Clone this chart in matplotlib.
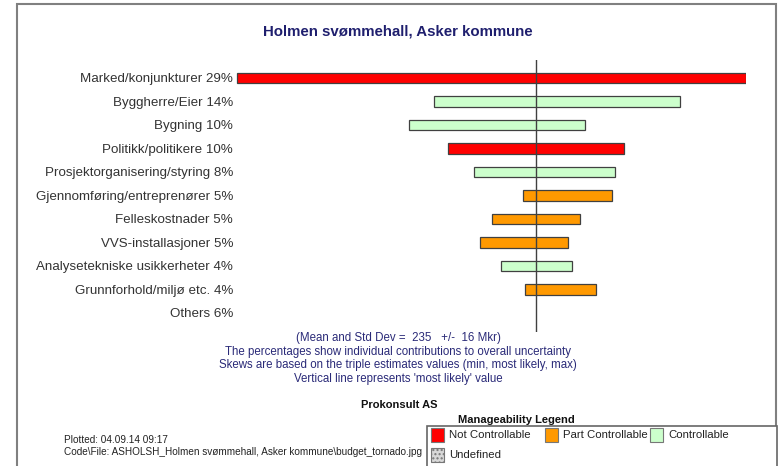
import matplotlib
matplotlib.use("Agg")
import matplotlib.pyplot as plt
from matplotlib.patches import Rectangle

plt.rcParams['font.family'] = ['Liberation Sans', 'DejaVu Sans']

# data (Mkr), most likely total = 230
labels = ["Marked/konjunkturer 29%", "Byggherre/Eier 14%", "Bygning 10%",
          "Politikk/politikere 10%", "Prosjektorganisering/styring 8%",
          "Gjennomføring/entreprenører 5%", "Felleskostnader 5%",
          "VVS-installasjoner 5%", "Analysetekniske usikkerheter 4%",
          "Grunnforhold/miljø etc. 4%", "Others 6%"]
low = [200.1, 219.8, 217.3, 221.2, 223.8, 228.7, 225.6, 224.4, 226.5, 228.9, None]
high = [251.0, 244.4, 234.9, 238.8, 237.9, 237.6, 234.4, 233.2, 233.6, 236.0, None]
manage = ["Not", "Ctrl", "Ctrl", "Not", "Ctrl", "Part", "Part", "Part", "Ctrl", "Part", None]
most_likely = 230

colors = {"Not": "#ff0000", "Part": "#ff9900", "Ctrl": "#ccffcc", "Undef": "#d8d8d8"}
legend_names = [("Not", "Not Controllable"), ("Part", "Part Controllable"),
                ("Ctrl", "Controllable")]

W, H = 778, 466
fig = plt.figure(figsize=(W/100, H/100), dpi=100)

def fx(x): return x / W
def fy(y): return 1 - y / H

# outer frame
fig.patches.append(Rectangle((fx(17), fy(470)), fx(776) - fx(17), fy(4) - fy(470),
                             transform=fig.transFigure, fill=False,
                             edgecolor="#808080", lw=1.5))

ax = fig.add_axes([fx(236), fy(332), fx(746) - fx(236), fy(60) - fy(332)])
ax.set_xlim(200, 251)
ax.set_ylim(10.81, -0.766)
for s in ax.spines.values():
    s.set_visible(False)
ax.set_xticks([])
ax.set_yticks(range(len(labels)))
ax.set_yticklabels(labels, fontsize=9.6, color="#333333")
ax.tick_params(axis='y', length=0, pad=2)

for i in range(len(labels)):
    if low[i] is None:
        continue
    ax.barh(i, high[i] - low[i], left=low[i], height=0.43,
            color=colors[manage[i]], edgecolor="#404040", lw=0.9, zorder=2)
ax.axvline(most_likely, color="#404040", lw=1, zorder=3)

fig.text(fx(398), fy(32), "Holmen svømmehall, Asker kommune", ha="center", va="center",
         fontsize=10.8, fontweight="bold", color="#1f1f6e")

notes = ["(Mean and Std Dev =  235   +/-  16 Mkr)",
         "The percentages show individual contributions to overall uncertainty",
         "Skews are based on the triple estimates values (min, most likely, max)",
         "Vertical line represents 'most likely' value"]
for k, t in enumerate(notes):
    fig.text(fx(398), fy(338 + 13.7 * k), t, ha="center", va="center",
             fontsize=8.3, color="#2a2a78")

fig.text(fx(399), fy(405), "Prokonsult AS", ha="center", va="center",
         fontsize=8, fontweight="bold", color="#111111")
fig.text(fx(516), fy(420), "Manageability Legend", ha="center", va="center",
         fontsize=8, fontweight="bold", color="#111111")

fig.text(fx(64), fy(440), "Plotted: 04.09.14 09:17", ha="left", va="center",
         fontsize=7.2, color="#222222")
fig.text(fx(64), fy(452),
         "Code\\File: ASHOLSH_Holmen svømmehall, Asker kommune\\budget_tornado.jpg",
         ha="left", va="center", fontsize=7.2, color="#222222", zorder=1)

# legend box
fig.patches.append(Rectangle((fx(427), fy(470)), fx(777) - fx(427), fy(426) - fy(470),
                             transform=fig.transFigure, facecolor="white",
                             edgecolor="#666666", lw=1.2, zorder=2))
xs = [431, 545, 650]
for (key, name), x0 in zip(legend_names, xs):
    fig.patches.append(Rectangle((fx(x0), fy(442)), fx(13), 14 / H,
                                 transform=fig.transFigure, facecolor=colors[key],
                                 edgecolor="#777777", lw=0.8, zorder=3))
    fig.text(fx(x0 + 18), fy(435.5), name, ha="left", va="center",
             fontsize=8.2, color="#222222", zorder=4)
fig.patches.append(Rectangle((fx(431), fy(462)), fx(13), 14 / H,
                             transform=fig.transFigure, facecolor=colors["Undef"],
                             edgecolor="#777777", lw=0.8, hatch="....", zorder=3))
fig.text(fx(449), fy(455.5), "Undefined", ha="left", va="center",
         fontsize=8.2, color="#222222", zorder=4)

fig.savefig("out.png", dpi=100)
